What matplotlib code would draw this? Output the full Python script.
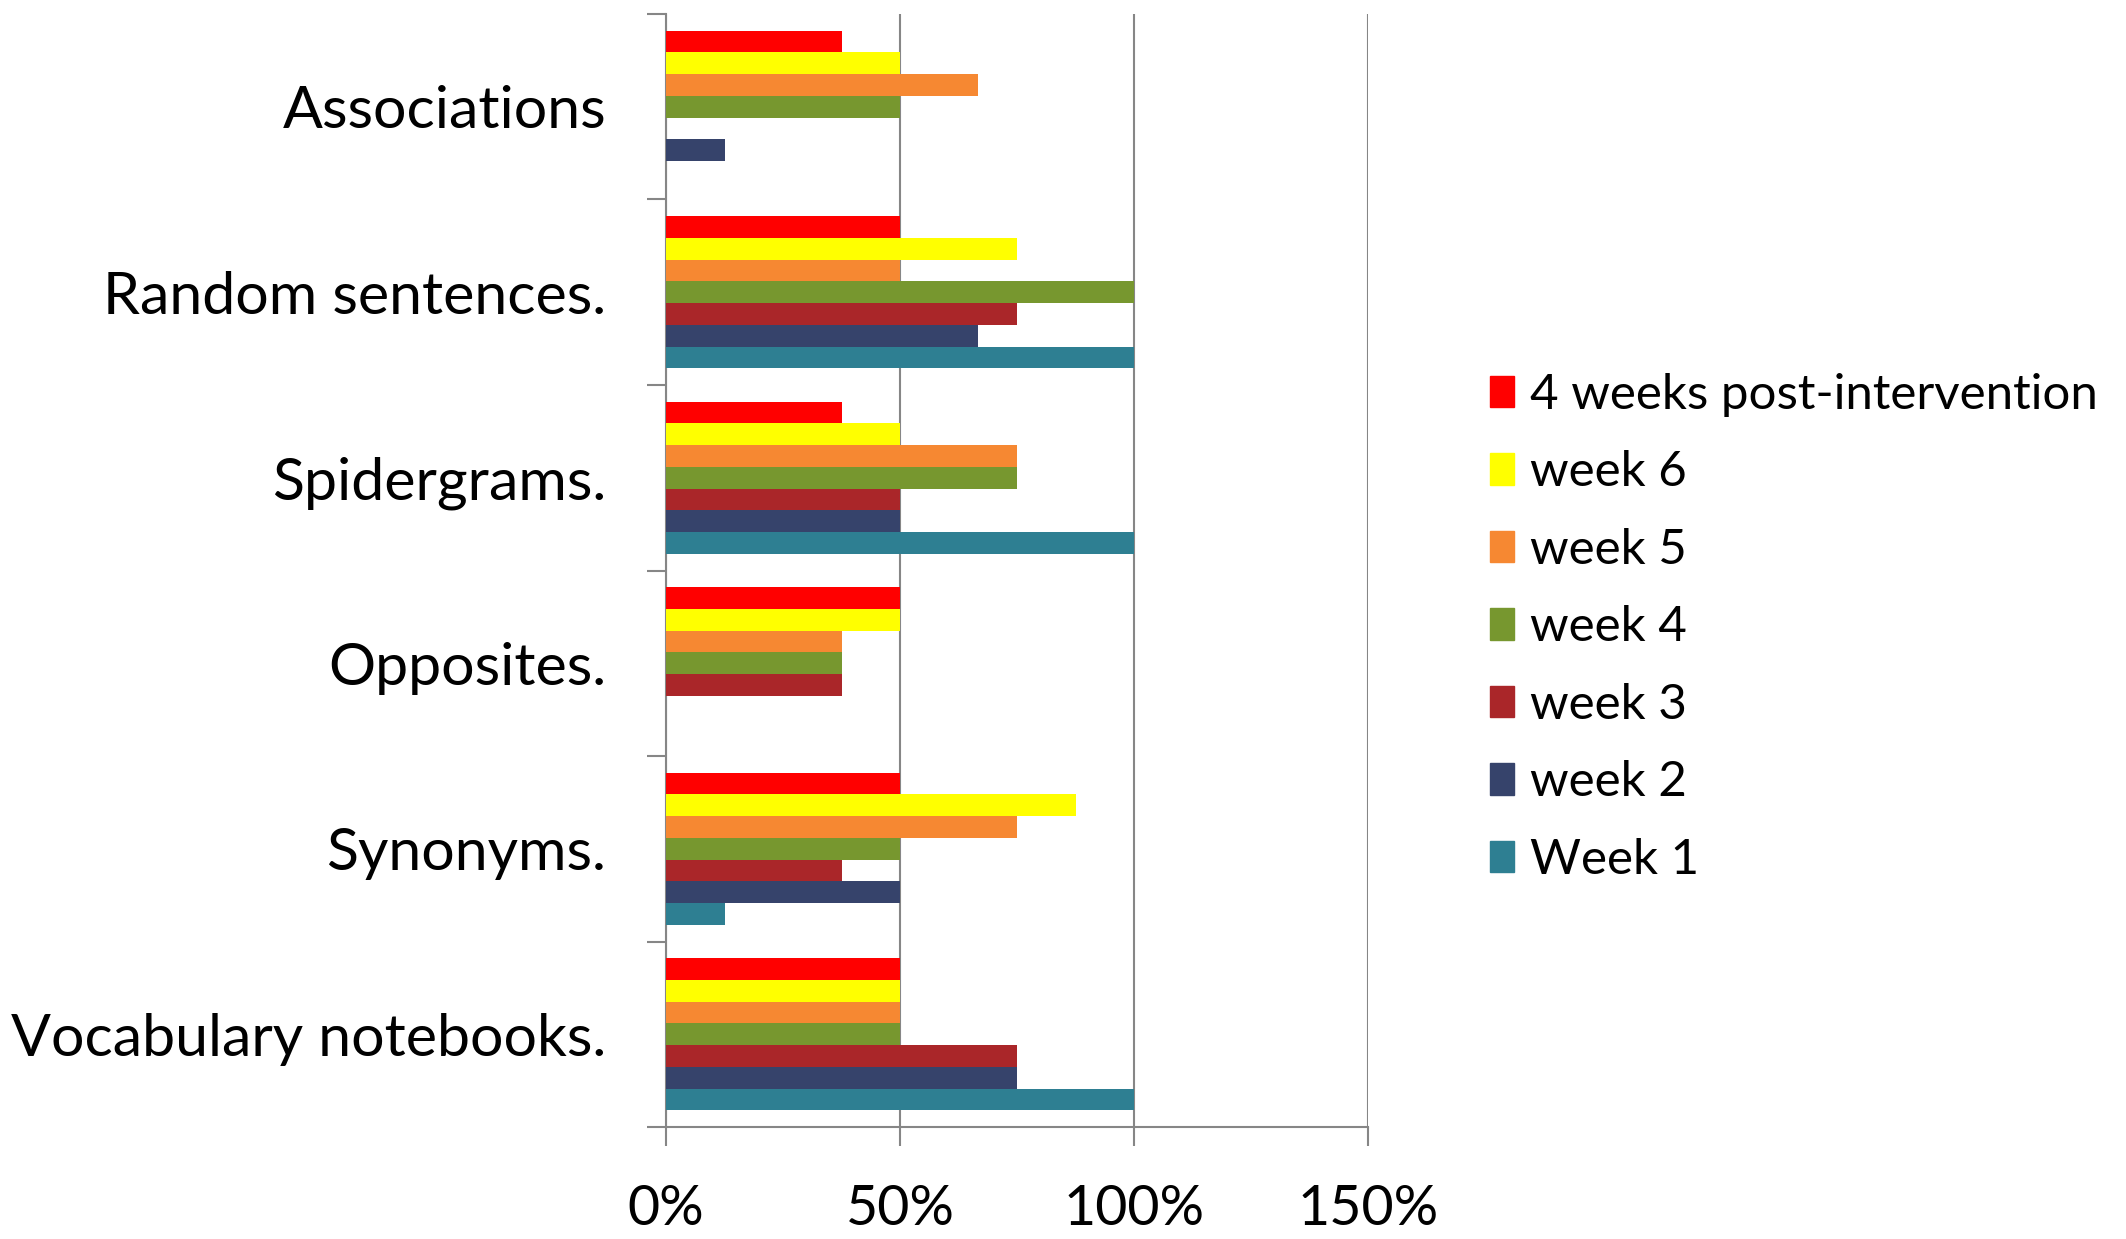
import matplotlib.pyplot as plt
import matplotlib.ticker as mticker
from matplotlib.patches import Patch
import numpy as np

plt.rcParams['font.family'] = ['Lato', 'DejaVu Sans']

# Categories from bottom to top
categories = ["Vocabulary notebooks.", "Synonyms.", "Opposites.",
              "Spidergrams.", "Random sentences.", "Associations"]

# Percent of learners using each strategy, per week (bottom to top order)
week1 = [100, 12.5, 0, 100, 100, 0]
week2 = [75, 50, 0, 50, 66.7, 12.5]
week3 = [75, 37.5, 37.5, 50, 75, 0]
week4 = [50, 50, 37.5, 75, 100, 50]
week5 = [50, 75, 37.5, 75, 50, 66.7]
week6 = [50, 87.5, 50, 50, 75, 50]
post4 = [50, 50, 50, 37.5, 50, 37.5]

series = [week1, week2, week3, week4, week5, week6, post4]
names = ["Week 1", "week 2", "week 3", "week 4", "week 5", "week 6",
         "4 weeks post-intervention"]
colors = ["#2E7F92", "#36436B", "#AA2629", "#77972F", "#F68832", "#FFFF00", "#FF0000"]

xticks = [0, 50, 100, 150]

fig = plt.figure(figsize=(21.26, 12.39), dpi=100)
ax = fig.add_axes([666 / 2126, 1 - 1127 / 1239, 702 / 2126, 1113 / 1239])

y = np.arange(len(categories))
h = 0.117
for i, (vals, c, n) in enumerate(zip(series, colors, names)):
    ax.barh(y + (i - 3) * h, vals, height=h, color=c, label=n, zorder=3)

ax.set_xlim(0, 150)
ax.set_ylim(-0.5, len(categories) - 0.5)
ax.set_xticks(xticks)
ax.xaxis.set_major_formatter(mticker.PercentFormatter(decimals=0))
ax.grid(axis='x', color='#868686', linewidth=1.5, zorder=0)

ax.set_yticks(y)
ax.set_yticklabels(categories)
ax.set_yticks(np.arange(-0.5, len(categories)), minor=True)

for s in ['top', 'right']:
    ax.spines[s].set_visible(False)
for s in ['left', 'bottom']:
    ax.spines[s].set_color('#868686')
    ax.spines[s].set_linewidth(1.5)

ax.tick_params(axis='y', which='major', length=0, pad=43, labelsize=42.5)
ax.tick_params(axis='y', which='minor', length=14, width=1.5, color='#868686')
ax.tick_params(axis='x', length=14, width=1.5, color='#868686', pad=27, labelsize=40)

handles = [Patch(color=c, label=n) for c, n in zip(colors, names)][::-1]
fig.legend(handles=handles, loc='upper left', bbox_to_anchor=(1470 / 2126, 1 - 353 / 1239),
           frameon=False, fontsize=35.5, handlelength=0.5, handleheight=0.6,
           handletextpad=0.32, labelspacing=0.68, borderaxespad=0)

fig.savefig("out.png", dpi=100)
